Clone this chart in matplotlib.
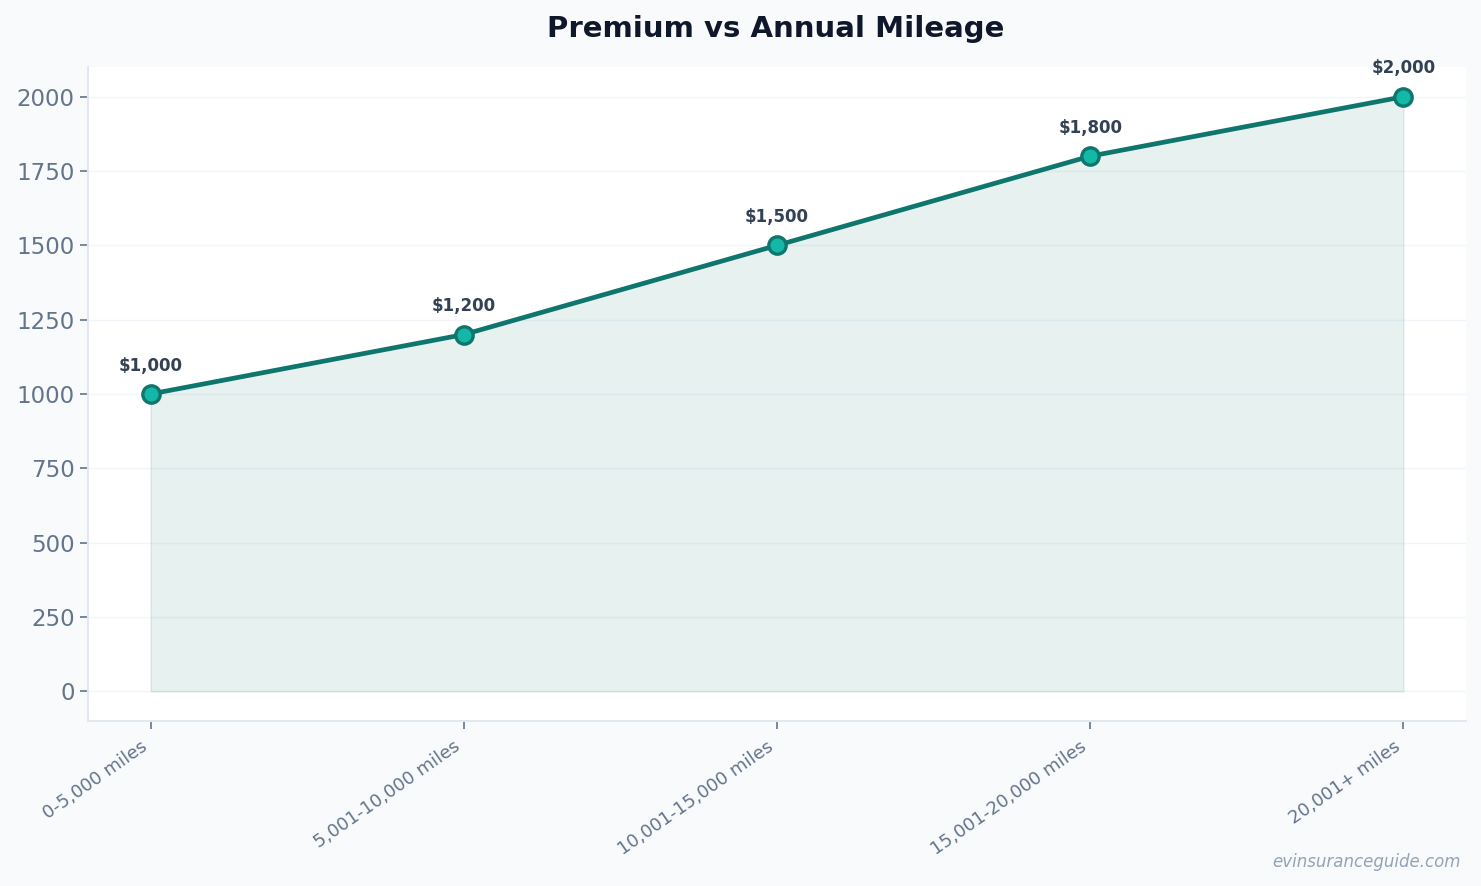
import matplotlib
matplotlib.use('Agg')
import matplotlib.pyplot as plt
import numpy as np

categories = ['0-5,000 miles', '5,001-10,000 miles', '10,001-15,000 miles',
              '15,001-20,000 miles', '20,001+ miles']
premiums = [1000, 1200, 1500, 1800, 2000]

fig = plt.figure(figsize=(14.81, 8.86), dpi=100, facecolor='#f8fafc')
ax = fig.add_axes([88 / 1481, 1 - 721 / 886, (1466 - 88) / 1481, (721 - 67) / 886])
ax.set_facecolor('white')

x = np.arange(len(categories))
ax.fill_between(x, premiums, 0, color='#0f766e', alpha=0.1, linewidth=1.2,
                edgecolor='#0f766e', zorder=2)
ax.plot(x, premiums, color='#0f766e', linewidth=3.4, marker='o', markersize=12.5,
        markerfacecolor='#14b8a6', markeredgecolor='#0f766e', markeredgewidth=2.4,
        zorder=3)

for xi, v in zip(x, premiums):
    ax.annotate(f'${v:,}', (xi, v), xytext=(0, 14), textcoords='offset points',
                ha='center', va='bottom', fontsize=12, fontweight='bold',
                color='#334155')

ax.set_xlim(-0.2, 4.2)
ax.set_ylim(-100, 2100)
ax.set_yticks(np.arange(0, 2001, 250))
ax.set_xticks(x)
ax.set_xticklabels(categories, rotation=35, ha='right')

for s in ['top', 'right']:
    ax.spines[s].set_visible(False)
for s in ['left', 'bottom']:
    ax.spines[s].set_color('#e2e8f0')
    ax.spines[s].set_linewidth(1.5)

ax.tick_params(axis='y', labelsize=16.5, colors='#64748b', length=6, width=1.2)
ax.tick_params(axis='x', labelsize=13, colors='#64748b', length=6, width=1.2, pad=6)
ax.grid(axis='y', color='#f1f5f9', linewidth=1, zorder=0)
ax.set_axisbelow(True)

fig.text(0.524, 0.967, 'Premium vs Annual Mileage', ha='center', va='center',
         fontsize=21, fontweight='bold', color='#0f172a')
fig.text(0.986, 0.027, 'evinsuranceguide.com', ha='right', va='center',
         fontsize=12, style='italic', color='#94a3b8')

fig.savefig('out.png', dpi=100, facecolor=fig.get_facecolor())
